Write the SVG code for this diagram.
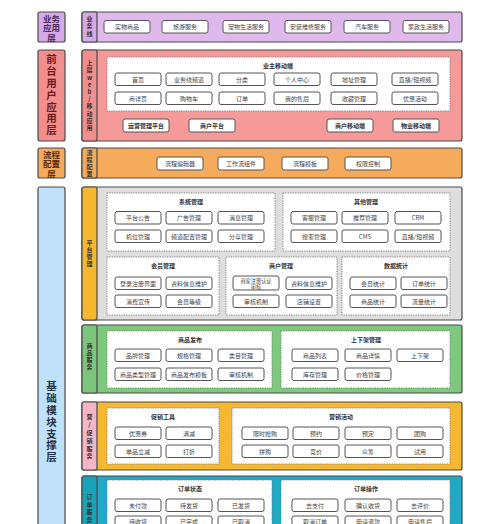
<svg xmlns="http://www.w3.org/2000/svg" width="500" height="524" viewBox="0 0 500 524">
<style>
text{font-family:"Noto Sans CJK SC","Noto Sans",sans-serif;text-anchor:middle;dominant-baseline:central}
.v{writing-mode:vertical-rl;text-orientation:upright}
.lab{stroke:#4a4a4a;stroke-width:1.2}
.lt{font-size:8.5px;font-weight:bold}
.strip{stroke:#4a4a4a;stroke-width:1.2}
.stt{font-size:6px;fill:#333;font-weight:bold}
.pan{stroke:#4a4a4a;stroke-width:1.2}
.dash{fill:#fff;stroke:#777;stroke-width:0.9;stroke-dasharray:1.2 1.2}
.tt{font-size:6px;font-weight:bold;fill:#333}
.bx rect{fill:#fff;stroke:#555;stroke-width:1}
.bx text{font-size:6px;fill:#444}
.bb text{font-weight:bold;fill:#333}
</style>
<rect width="500" height="524" fill="#fff"/>

<!-- Layer labels -->
<g id="layer-app">
<rect class="lab" x="38" y="12" width="27" height="30" rx="2" fill="#d7a8e6"/>
<text class="lt" fill="#4a2a58"><tspan x="51.5" y="18">业务</tspan><tspan x="51.5" y="27.3">应用</tspan><tspan x="51.5" y="36.6">层</tspan></text>
</g>
<g id="layer-front">
<rect class="lab" x="38" y="50" width="27" height="91" rx="2" fill="#f28e8c"/>
<text class="lt v" x="51.5" y="95.5" fill="#6e1a1a" style="font-size:10.5px;letter-spacing:1.3px">前台用户应用层</text>
</g>
<g id="layer-flow">
<rect class="lab" x="38" y="148" width="27" height="30" rx="2" fill="#f5a95c"/>
<text class="lt" fill="#5a300c"><tspan x="51.5" y="154">流程</tspan><tspan x="51.5" y="163.3">配置</tspan><tspan x="51.5" y="172.6">层</tspan></text>
</g>
<g id="layer-base">
<rect class="lab" x="38" y="187" width="27" height="360" rx="2" fill="#bfe1fb"/>
<text class="lt v" x="51.5" y="422.4" fill="#233247" style="font-size:10.5px;letter-spacing:1.3px">基础模块支撑层</text>
</g>

<!-- Panels -->
<g id="panel-business">
<rect class="pan" x="82" y="12" width="380" height="30" rx="2" fill="#dfb9ec"/>
<rect class="strip" x="82" y="12" width="15" height="30" rx="2" fill="#d7a8e6"/>
<text class="stt v" x="89.5" y="26.8" style="letter-spacing:1.5px">业务线</text>
</g>
<g id="panel-front">
<rect class="pan" x="82" y="50" width="380" height="91" rx="2" fill="#f59a98"/>
<rect class="strip" x="82" y="50" width="15" height="91" rx="2" fill="#f28e8c"/>
<text class="stt v" x="89.5" y="96" style="letter-spacing:1.2px">上层web/移动应用</text>
<rect class="dash" x="107" y="57" width="343" height="54"/>
<text class="tt" x="278" y="65">业主移动端</text>
</g>
<g id="panel-flow">
<rect class="pan" x="82" y="148" width="380" height="30" rx="2" fill="#f6aa5c"/>
<rect class="strip" x="82" y="148" width="15" height="30" rx="2" fill="#f5a95c"/>
<text class="stt v" x="89.5" y="164" style="letter-spacing:1px">流程配置</text>
</g>
<g id="panel-platform">
<rect class="pan" x="82" y="187" width="380" height="133" rx="2" fill="#dedede"/>
<rect class="strip" x="82" y="187" width="15" height="133" rx="2" fill="#f5b72d"/>
<text class="stt v" x="89.5" y="254" style="letter-spacing:1px">平台管理</text>
<rect class="dash" x="107" y="193" width="168" height="58"/>
<text class="tt" x="191" y="201">系统管理</text>
<rect class="dash" x="283" y="193" width="167" height="58"/>
<text class="tt" x="366" y="201">其他管理</text>
<rect class="dash" x="107" y="257" width="112" height="58"/>
<text class="tt" x="163" y="265">会员管理</text>
<rect class="dash" x="226" y="257" width="111" height="58"/>
<text class="tt" x="281" y="265">商户管理</text>
<rect class="dash" x="342" y="257" width="108" height="58"/>
<text class="tt" x="396" y="265">数据统计</text>
</g>
<g id="panel-goods">
<rect class="pan" x="82" y="325" width="380" height="68" rx="2" fill="#7fc97f"/>
<rect class="strip" x="82" y="325" width="15" height="68" rx="2" fill="#7cc67c"/>
<text class="stt v" x="89.5" y="357" style="letter-spacing:1px">商品服务</text>
<rect class="dash" x="107" y="331" width="165" height="57"/>
<text class="tt" x="190" y="339">商品发布</text>
<rect class="dash" x="281" y="331" width="169" height="57"/>
<text class="tt" x="366" y="339">上下架管理</text>
</g>
<g id="panel-promo">
<rect class="pan" x="82" y="402" width="380" height="68" rx="2" fill="#f6b830"/>
<rect class="strip" x="82" y="402" width="15" height="68" rx="2" fill="#f5b5c7"/>
<text class="stt v" x="89.5" y="437.5" style="letter-spacing:1.8px">营/促销服务</text>
<rect class="dash" x="107" y="408" width="112" height="56"/>
<text class="tt" x="163" y="416">促销工具</text>
<rect class="dash" x="232" y="408" width="218" height="56"/>
<text class="tt" x="341" y="416">营销活动</text>
</g>
<g id="panel-order">
<rect class="pan" x="82" y="476" width="380" height="70" rx="2" fill="#1fa9c4"/>
<rect class="strip" x="82" y="476" width="15" height="70" rx="2" fill="#18a3bd"/>
<text class="stt v" x="89.5" y="509" style="letter-spacing:1.5px">订单服务</text>
<rect class="dash" x="107" y="480" width="165" height="60"/>
<text class="tt" x="190" y="488">订单状态</text>
<rect class="dash" x="281" y="480" width="169" height="60"/>
<text class="tt" x="366" y="488">订单操作</text>
</g>

<!-- Boxes -->
<g id="biz-boxes">
<g class="bx" id="n-swsp"><rect x="104" y="20.5" width="46" height="12.5" rx="2"/><text x="127" y="26.8">实物商品</text></g>
<g class="bx" id="n-lyfw"><rect x="162" y="20.5" width="46" height="12.5" rx="2"/><text x="185" y="26.8">旅游服务</text></g>
<g class="bx" id="n-cwsh"><rect x="223" y="20.5" width="46" height="12.5" rx="2"/><text x="246" y="26.8">宠物生活服务</text></g>
<g class="bx" id="n-azwx"><rect x="285" y="20.5" width="46" height="12.5" rx="2"/><text x="308" y="26.8">安装维修服务</text></g>
<g class="bx" id="n-qcfw"><rect x="344" y="20.5" width="46" height="12.5" rx="2"/><text x="367" y="26.8">汽车服务</text></g>
<g class="bx" id="n-jzsh"><rect x="403" y="20.5" width="46" height="12.5" rx="2"/><text x="426" y="26.8">家政生活服务</text></g>
</g>
<g id="front-boxes">
<g class="bx" id="n-sy"><rect x="115" y="73" width="46" height="12.5" rx="2"/><text x="138" y="79.3">首页</text></g>
<g class="bx" id="n-ywxpd"><rect x="166" y="73" width="46" height="12.5" rx="2"/><text x="189" y="79.3">业务线频道</text></g>
<g class="bx" id="n-fl"><rect x="219" y="73" width="46" height="12.5" rx="2"/><text x="242" y="79.3">分类</text></g>
<g class="bx" id="n-grzx"><rect x="274" y="73" width="46" height="12.5" rx="2"/><text x="297" y="79.3">个人中心</text></g>
<g class="bx" id="n-dzgl"><rect x="331" y="73" width="46" height="12.5" rx="2"/><text x="354" y="79.3">地址管理</text></g>
<g class="bx" id="n-zb"><rect x="392" y="73" width="46" height="12.5" rx="2"/><text x="415" y="79.3">直播/短视频</text></g>
<g class="bx" id="n-sxy"><rect x="115" y="92" width="46" height="12.5" rx="2"/><text x="138" y="98.3">商详页</text></g>
<g class="bx" id="n-gwc"><rect x="166" y="92" width="46" height="12.5" rx="2"/><text x="189" y="98.3">购物车</text></g>
<g class="bx" id="n-dd"><rect x="219" y="92" width="46" height="12.5" rx="2"/><text x="242" y="98.3">订单</text></g>
<g class="bx" id="n-wdsh"><rect x="274" y="92" width="46" height="12.5" rx="2"/><text x="297" y="98.3">我的售后</text></g>
<g class="bx" id="n-scgl"><rect x="331" y="92" width="46" height="12.5" rx="2"/><text x="354" y="98.3">收藏管理</text></g>
<g class="bx" id="n-yhhd"><rect x="392" y="92" width="46" height="12.5" rx="2"/><text x="415" y="98.3">优惠活动</text></g>
<g class="bx bb" id="n-yyglpt"><rect x="123" y="119" width="46" height="13" rx="2"/><text x="146" y="125.5">运营管理平台</text></g>
<g class="bx bb" id="n-shpt"><rect x="189" y="119" width="46" height="13" rx="2"/><text x="212" y="125.5">商户平台</text></g>
<g class="bx bb" id="n-shydd"><rect x="327" y="119" width="46" height="13" rx="2"/><text x="350" y="125.5">商户移动端</text></g>
<g class="bx bb" id="n-wyydd"><rect x="393" y="119" width="46" height="13" rx="2"/><text x="416" y="125.5">物业移动端</text></g>
</g>
<g id="flow-boxes">
<g class="bx" id="n-lcbjq"><rect x="157" y="157" width="46" height="13" rx="2"/><text x="180" y="163.5">流程编辑器</text></g>
<g class="bx" id="n-gzlzj"><rect x="218" y="157" width="46" height="13" rx="2"/><text x="241" y="163.5">工作流组件</text></g>
<g class="bx" id="n-lcmb"><rect x="282" y="157" width="46" height="13" rx="2"/><text x="305" y="163.5">流程模板</text></g>
<g class="bx" id="n-qxkz"><rect x="345" y="157" width="46" height="13" rx="2"/><text x="368" y="163.5">权限控制</text></g>
</g>
<g id="platform-boxes">
<g class="bx" id="n-ptgg"><rect x="115" y="211.5" width="46" height="12.5" rx="2"/><text x="138" y="217.8">平台公告</text></g>
<g class="bx" id="n-gggl"><rect x="166" y="211.5" width="46" height="12.5" rx="2"/><text x="189" y="217.8">广告管理</text></g>
<g class="bx" id="n-xxgl"><rect x="218" y="211.5" width="46" height="12.5" rx="2"/><text x="241" y="217.8">消息管理</text></g>
<g class="bx" id="n-jwgl"><rect x="115" y="230" width="46" height="12.5" rx="2"/><text x="138" y="236.3">机位管理</text></g>
<g class="bx" id="n-pdpz"><rect x="166" y="230" width="46" height="12.5" rx="2"/><text x="189" y="236.3">频道配置管理</text></g>
<g class="bx" id="n-fxgl"><rect x="218" y="230" width="46" height="12.5" rx="2"/><text x="241" y="236.3">分享管理</text></g>
<g class="bx" id="n-kfgl"><rect x="291" y="211.5" width="46" height="12.5" rx="2"/><text x="314" y="217.8">客服管理</text></g>
<g class="bx" id="n-tjgl"><rect x="342" y="211.5" width="46" height="12.5" rx="2"/><text x="365" y="217.8">推荐管理</text></g>
<g class="bx" id="n-crm"><rect x="395" y="211.5" width="46" height="12.5" rx="2"/><text x="418" y="217.8">CRM</text></g>
<g class="bx" id="n-ssgl"><rect x="291" y="230" width="46" height="12.5" rx="2"/><text x="314" y="236.3">搜索管理</text></g>
<g class="bx" id="n-cms"><rect x="342" y="230" width="46" height="12.5" rx="2"/><text x="365" y="236.3">CMS</text></g>
<g class="bx" id="n-zbdsp"><rect x="395" y="230" width="46" height="12.5" rx="2"/><text x="418" y="236.3">直播/短视频</text></g>
<g class="bx" id="n-dlzc"><rect x="115" y="277" width="46" height="12.5" rx="2"/><text x="138" y="283.3">登录注册界面</text></g>
<g class="bx" id="n-zlxx1"><rect x="166" y="277" width="46" height="12.5" rx="2"/><text x="189" y="283.3">资料信息维护</text></g>
<g class="bx" id="n-xfxc"><rect x="115" y="295" width="46" height="12.5" rx="2"/><text x="138" y="301.3">消费宣传</text></g>
<g class="bx" id="n-hydj"><rect x="166" y="295" width="46" height="12.5" rx="2"/><text x="189" y="301.3">会员等级</text></g>
<g class="bx" id="n-sjzc"><rect x="233" y="276" width="46" height="14" rx="2"/><text style="font-size:5.2px"><tspan x="256" y="280">商家注册认证</tspan><tspan x="256" y="286">审核</tspan></text></g>
<g class="bx" id="n-zlxx2"><rect x="286" y="277" width="46" height="12.5" rx="2"/><text x="309" y="283.3">资料信息维护</text></g>
<g class="bx" id="n-shjz1"><rect x="233" y="295" width="46" height="12.5" rx="2"/><text x="256" y="301.3">审核机制</text></g>
<g class="bx" id="n-dpsz"><rect x="286" y="295" width="46" height="12.5" rx="2"/><text x="309" y="301.3">店铺设置</text></g>
<g class="bx" id="n-hytj"><rect x="350" y="277" width="46" height="12.5" rx="2"/><text x="373" y="283.3">会员统计</text></g>
<g class="bx" id="n-ddtj"><rect x="401" y="277" width="46" height="12.5" rx="2"/><text x="424" y="283.3">订单统计</text></g>
<g class="bx" id="n-sptj"><rect x="350" y="295" width="46" height="12.5" rx="2"/><text x="373" y="301.3">商品统计</text></g>
<g class="bx" id="n-lltj"><rect x="401" y="295" width="46" height="12.5" rx="2"/><text x="424" y="301.3">流量统计</text></g>
</g>
<g id="goods-boxes">
<g class="bx" id="n-ppgl"><rect x="115" y="349" width="46" height="12.5" rx="2"/><text x="138" y="355.3">品牌管理</text></g>
<g class="bx" id="n-gggl2"><rect x="166" y="349" width="46" height="12.5" rx="2"/><text x="189" y="355.3">规格管理</text></g>
<g class="bx" id="n-lmgl"><rect x="218" y="349" width="46" height="12.5" rx="2"/><text x="241" y="355.3">类目管理</text></g>
<g class="bx" id="n-splx"><rect x="115" y="368" width="46" height="12.5" rx="2"/><text x="138" y="374.3">商品类型管理</text></g>
<g class="bx" id="n-spfb"><rect x="166" y="368" width="46" height="12.5" rx="2"/><text x="189" y="374.3">商品发布模板</text></g>
<g class="bx" id="n-shjz2"><rect x="218" y="368" width="46" height="12.5" rx="2"/><text x="241" y="374.3">审核机制</text></g>
<g class="bx" id="n-splb"><rect x="292" y="349" width="46" height="12.5" rx="2"/><text x="315" y="355.3">商品列表</text></g>
<g class="bx" id="n-spxq"><rect x="345" y="349" width="46" height="12.5" rx="2"/><text x="368" y="355.3">商品详情</text></g>
<g class="bx" id="n-sxj"><rect x="397" y="349" width="46" height="12.5" rx="2"/><text x="420" y="355.3">上下架</text></g>
<g class="bx" id="n-kcgl"><rect x="292" y="368" width="46" height="12.5" rx="2"/><text x="315" y="374.3">库存管理</text></g>
<g class="bx" id="n-jggl"><rect x="345" y="368" width="46" height="12.5" rx="2"/><text x="368" y="374.3">价格管理</text></g>
</g>
<g id="promo-boxes">
<g class="bx" id="n-yhq"><rect x="115" y="427" width="46" height="12.5" rx="2"/><text x="138" y="433.3">优惠券</text></g>
<g class="bx" id="n-mj"><rect x="166" y="427" width="46" height="12.5" rx="2"/><text x="189" y="433.3">满减</text></g>
<g class="bx" id="n-dplj"><rect x="115" y="445" width="46" height="12.5" rx="2"/><text x="138" y="451.3">单品立减</text></g>
<g class="bx" id="n-dz"><rect x="166" y="445" width="46" height="12.5" rx="2"/><text x="189" y="451.3">打折</text></g>
<g class="bx" id="n-xsqg"><rect x="242" y="427" width="46" height="12.5" rx="2"/><text x="265" y="433.3">限时抢购</text></g>
<g class="bx" id="n-yy"><rect x="293" y="427" width="46" height="12.5" rx="2"/><text x="316" y="433.3">预约</text></g>
<g class="bx" id="n-yd"><rect x="345" y="427" width="46" height="12.5" rx="2"/><text x="368" y="433.3">预定</text></g>
<g class="bx" id="n-tg"><rect x="397" y="427" width="46" height="12.5" rx="2"/><text x="420" y="433.3">团购</text></g>
<g class="bx" id="n-pg"><rect x="242" y="445" width="46" height="12.5" rx="2"/><text x="265" y="451.3">拼购</text></g>
<g class="bx" id="n-jj"><rect x="293" y="445" width="46" height="12.5" rx="2"/><text x="316" y="451.3">竞价</text></g>
<g class="bx" id="n-zc"><rect x="345" y="445" width="46" height="12.5" rx="2"/><text x="368" y="451.3">众筹</text></g>
<g class="bx" id="n-sy2"><rect x="397" y="445" width="46" height="12.5" rx="2"/><text x="420" y="451.3">试用</text></g>
</g>
<g id="order-boxes">
<g class="bx" id="n-wfk"><rect x="115" y="499" width="46" height="12.5" rx="2"/><text x="138" y="505.3">未付款</text></g>
<g class="bx" id="n-dfh"><rect x="166" y="499" width="46" height="12.5" rx="2"/><text x="189" y="505.3">待发货</text></g>
<g class="bx" id="n-yfh"><rect x="218" y="499" width="46" height="12.5" rx="2"/><text x="241" y="505.3">已发货</text></g>
<g class="bx" id="n-dsh"><rect x="115" y="516" width="46" height="12.5" rx="2"/><text x="138" y="521">待收货</text></g>
<g class="bx" id="n-ywc"><rect x="166" y="516" width="46" height="12.5" rx="2"/><text x="189" y="521">已完成</text></g>
<g class="bx" id="n-yqx"><rect x="218" y="516" width="46" height="12.5" rx="2"/><text x="241" y="521">已取消</text></g>
<g class="bx" id="n-qzf"><rect x="292" y="499" width="46" height="12.5" rx="2"/><text x="315" y="505.3">去支付</text></g>
<g class="bx" id="n-qrsh"><rect x="345" y="499" width="46" height="12.5" rx="2"/><text x="368" y="505.3">确认收货</text></g>
<g class="bx" id="n-qpj"><rect x="397" y="499" width="46" height="12.5" rx="2"/><text x="420" y="505.3">去评价</text></g>
<g class="bx" id="n-qxdd"><rect x="292" y="516" width="46" height="12.5" rx="2"/><text x="315" y="521">取消订单</text></g>
<g class="bx" id="n-sqtk"><rect x="345" y="516" width="46" height="12.5" rx="2"/><text x="368" y="521">申请退款</text></g>
<g class="bx" id="n-sqsh"><rect x="397" y="516" width="46" height="12.5" rx="2"/><text x="420" y="521">申请售后</text></g>
</g>
<g id="connectors"/>
</svg>
